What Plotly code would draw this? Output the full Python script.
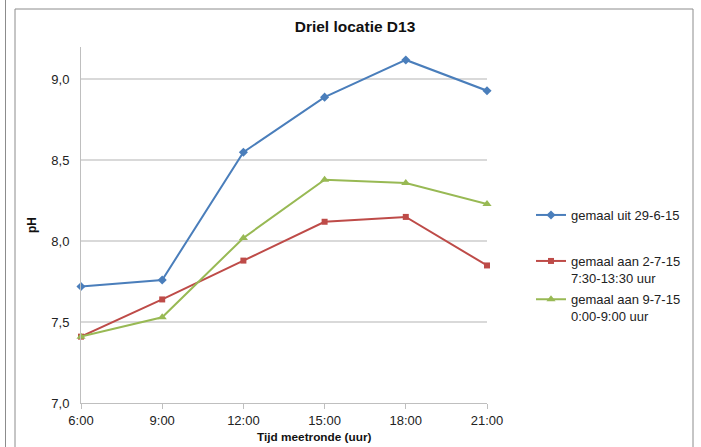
import plotly.graph_objects as go

tijden = ["6:00", "9:00", "12:00", "15:00", "18:00", "21:00"]
uur = [6, 9, 12, 15, 18, 21]
gemaal_uit = [7.72, 7.76, 8.55, 8.89, 9.12, 8.93]
gemaal_aan_2 = [7.41, 7.64, 7.88, 8.12, 8.15, 7.85]
gemaal_aan_9 = [7.41, 7.53, 8.02, 8.38, 8.36, 8.23]
y_ticks = [7.0, 7.5, 8.0, 8.5, 9.0]
y_labels = ["7,0", "7,5", "8,0", "8,5", "9,0"]

FONT = "Liberation Sans, Arial, sans-serif"

fig = go.Figure()
series = [
    ("gemaal uit 29-6-15", gemaal_uit, "#4a7ebb", "diamond", 7, "legend"),
    ("gemaal aan 2-7-15<br>7:30-13:30 uur", gemaal_aan_2, "#be4b48", "square", 6, "legend2"),
    ("gemaal aan 9-7-15<br>0:00-9:00 uur", gemaal_aan_9, "#98b954", "triangle-up", 8, "legend2"),
]
for i, (name, vals, col, sym, sz, lg) in enumerate(series):
    fig.add_trace(go.Scatter(
        x=uur, y=vals, name=name, mode="lines+markers",
        legendgroup=f"g{i}", legend=lg, cliponaxis=False,
        line=dict(color=col, width=2),
        marker=dict(color=col, symbol=sym, size=sz),
    ))

L, R, T, B = 81, 487, 47, 403
W, H = 701, 447

def px(x):
    return (x - L) / (R - L)

def py(y):
    return (B - y) / (B - T)

leg_common = dict(xanchor="left", yanchor="top", valign="top",
                  bgcolor="rgba(0,0,0,0)", font=dict(size=13, color="#222"),
                  itemwidth=30)

fig.update_layout(
    width=W, height=H,
    margin=dict(l=L, r=W - R, t=T, b=H - B, autoexpand=False),
    paper_bgcolor="white", plot_bgcolor="white",
    font=dict(family=FONT, size=13, color="#222"),
    title=dict(text="<b>Driel locatie D13</b>", x=355 / W, xanchor="center",
               y=1 - 27 / H, yanchor="middle", font=dict(size=15.5, color="#111")),
    xaxis=dict(range=[6, 21], tickvals=uur, ticktext=tijden, automargin=False,
               showgrid=False, zeroline=False, showline=True, linecolor="#bfbfbf",
               linewidth=1, ticks="outside", ticklen=5, tickcolor="#bfbfbf",
               tickfont=dict(size=13, color="#222")),
    yaxis=dict(range=[7.0, 9.2], tickvals=y_ticks, ticktext=y_labels, automargin=False,
               showgrid=True, gridcolor="#d9d9d9", gridwidth=1.5, zeroline=False,
               showline=True, linecolor="#bfbfbf", linewidth=1, ticks="",
               ticklabelstandoff=8,
               tickfont=dict(size=13, color="#222"),
               title=dict(text="<b>pH</b>", standoff=12,
                          font=dict(size=12, color="#111"))),
    legend=dict(x=px(531), y=py(200), **leg_common),
    legend2=dict(x=px(531), y=py(246), tracegroupgap=1.5, **leg_common),
    showlegend=True,
)

fig.add_annotation(text="<b>Tijd meetronde (uur)</b>", xref="paper", yref="paper",
                   x=px(314), y=py(446), xanchor="center", yanchor="bottom",
                   showarrow=False, font=dict(size=11.8, color="#111"))

# outer frames
fig.add_shape(type="rect", xref="paper", yref="paper",
              x0=px(15), x1=px(693), y0=py(460), y1=py(9),
              line=dict(color="#8c8c8c", width=1), fillcolor="rgba(0,0,0,0)", layer="below")
fig.add_shape(type="line", xref="paper", yref="paper",
              x0=px(5.5), x1=px(5.5), y0=py(460), y1=py(0),
              line=dict(color="#8c8c8c", width=1), layer="below")

fig.write_html("out.html")
